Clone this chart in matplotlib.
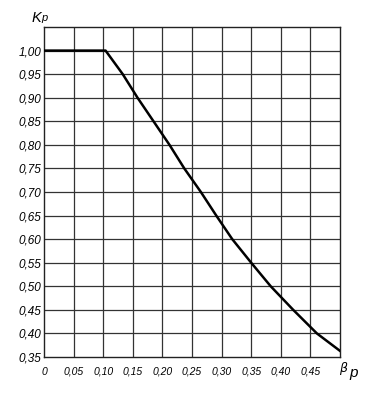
import matplotlib.pyplot as plt

# curve: beta_p -> K_p
beta = [0.0, 0.05, 0.104, 0.133, 0.158, 0.185, 0.212, 0.237, 0.265,
        0.291, 0.318, 0.350, 0.383, 0.421, 0.461, 0.500]
kp = [1.00, 1.00, 1.00, 0.95, 0.90, 0.85, 0.80, 0.75, 0.70,
      0.65, 0.60, 0.55, 0.50, 0.45, 0.40, 0.363]

x_ticks = [0.0, 0.05, 0.10, 0.15, 0.20, 0.25, 0.30, 0.35, 0.40, 0.45]
x_labels = ['0', '0,05', '0,10', '0,15', '0,20', '0,25', '0,30', '0,35', '0,40', '0,45']
y_ticks = [0.35, 0.40, 0.45, 0.50, 0.55, 0.60, 0.65, 0.70, 0.75, 0.80, 0.85, 0.90, 0.95, 1.00]
y_labels = ['0,35', '0,40', '0,45', '0,50', '0,55', '0,60', '0,65', '0,70',
            '0,75', '0,80', '0,85', '0,90', '0,95', '1,00']

plt.rcParams['font.family'] = ['Liberation Sans', 'DejaVu Sans']

fig = plt.figure(figsize=(3.71, 3.95), dpi=100)
ax = fig.add_axes([0.1186, 0.0962, 0.7978, 0.8354])

ax.set_xlim(0, 0.5)
ax.set_ylim(0.35, 1.05)

# grid every 0.05 in both directions
for gx in [i * 0.05 for i in range(1, 10)]:
    ax.axvline(gx, color='#333333', lw=0.9, zorder=1)
for gy in [0.35 + i * 0.05 for i in range(1, 14)]:
    ax.axhline(gy, color='#333333', lw=0.9, zorder=1)
for s in ax.spines.values():
    s.set_color('#222222')
    s.set_linewidth(1.0)

ax.plot(beta, kp, color='black', lw=1.8, zorder=3, solid_joinstyle='round')

ax.set_xticks(x_ticks)
ax.set_xticklabels(x_labels, style='italic', fontsize=7.5)
ax.set_yticks(y_ticks)
ax.set_yticklabels(y_labels, style='italic', fontsize=8.5)
ax.tick_params(axis='y', length=0, pad=2)
ax.tick_params(axis='x', length=0, pad=7)

ax.text(-0.005, 1.054, 'K', ha='right', va='bottom', fontsize=10.5, style='italic')
ax.text(-0.004, 1.058, 'p', ha='left', va='bottom', fontsize=8, style='italic')
ax.text(0.499, 0.326, r'$\beta$', ha='left', va='center', fontsize=9)
ax.text(0.5165, 0.316, 'p', ha='left', va='center', fontsize=11, style='italic')

fig.savefig('out.png', dpi=100)
